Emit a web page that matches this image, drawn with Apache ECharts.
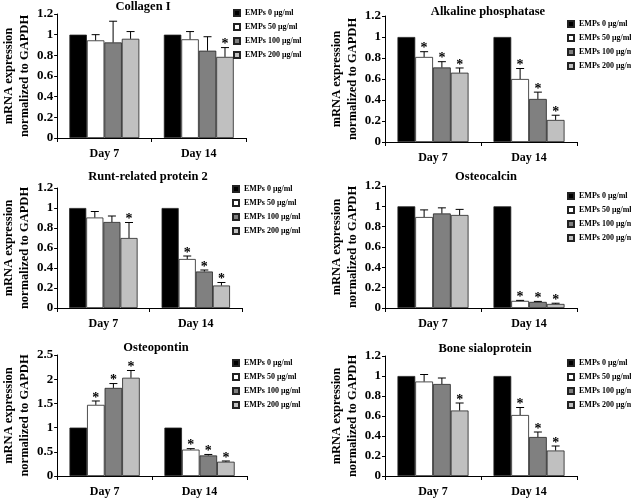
<!DOCTYPE html>
<html>
<head>
<meta charset="utf-8">
<script src="https://cdn.jsdelivr.net/npm/echarts@6/dist/echarts.min.js"></script>
<style>
html, body { margin: 0; padding: 0; background: #fff; }
#main { width: 631px; height: 500px; }
</style>
</head>
<body>
<div id="main"></div>
<script>
// categories / legend
var days = ['Day 7', 'Day 14'];
var doses = ['EMPs 0 μg/ml', 'EMPs 50 μg/ml', 'EMPs 100 μg/ml', 'EMPs 200 μg/ml'];
var titles = ['Collagen I', 'Alkaline phosphatase', 'Runt-related protein 2', 'Osteocalcin', 'Osteopontin', 'Bone sialoprotein'];
var yMax = [1.2, 1.2, 1.2, 1.2, 2.5, 1.2];
var yStep = [0.2, 0.2, 0.2, 0.2, 0.5, 0.2];

// values: [dose][day]  (mean, upper error, significance)
var colMean = [[1, 1], [0.945, 0.955], [0.925, 0.845], [0.96, 0.785]];
var colErr  = [[0, 0], [0.055, 0.075], [0.205, 0.135], [0.07, 0.09]];
var colSig  = [[0, 0], [0, 0], [0, 0], [0, 1]];

var alpMean = [[1, 1], [0.81, 0.6], [0.71, 0.41], [0.66, 0.21]];
var alpErr  = [[0, 0], [0.05, 0.1], [0.055, 0.065], [0.045, 0.045]];
var alpSig  = [[0, 0], [1, 1], [1, 1], [1, 1]];

var runxMean = [[1, 1], [0.905, 0.49], [0.86, 0.365], [0.70, 0.225]];
var runxErr  = [[0, 0], [0.06, 0.03], [0.06, 0.015], [0.155, 0.03]];
var runxSig  = [[0, 0], [0, 1], [0, 1], [1, 1]];

var ocnMean = [[1, 1], [0.895, 0.07], [0.93, 0.06], [0.915, 0.04]];
var ocnErr  = [[0, 0], [0.07, 0.005], [0.055, 0.005], [0.055, 0.007]];
var ocnSig  = [[0, 0], [0, 1], [0, 1], [0, 1]];

var opnMean = [[1, 1], [1.47, 0.545], [1.82, 0.425], [2.03, 0.295]];
var opnErr  = [[0, 0], [0.08, 0.02], [0.09, 0.02], [0.15, 0.015]];
var opnSig  = [[0, 0], [1, 1], [1, 1], [1, 1]];

var bspMean = [[1, 1], [0.945, 0.61], [0.92, 0.39], [0.655, 0.255]];
var bspErr  = [[0, 0], [0.07, 0.075], [0.06, 0.05], [0.075, 0.045]];
var bspSig  = [[0, 0], [0, 1], [0, 1], [1, 1]];

var means = [colMean, alpMean, runxMean, ocnMean, opnMean, bspMean];
var errs = [colErr, alpErr, runxErr, ocnErr, opnErr, bspErr];
var sigs = [colSig, alpSig, runxSig, ocnSig, opnSig, bspSig];

// 布局 (px)
var grids = [
	{left: 57, top: 14, width: 189, height: 124},
	{left: 385, top: 16, width: 192, height: 126},
	{left: 57, top: 188, width: 185, height: 120},
	{left: 385, top: 186, width: 192, height: 122},
	{left: 57, top: 355, width: 190, height: 121},
	{left: 385, top: 356, width: 192, height: 120}
];
var titlePos = [[143, 0], [488, 5], [148, 170], [486, 170], [156, 341], [485, 342]];
var legendPos = [[233, 9], [567, 20], [232, 185], [567, 192], [232, 359], [567, 359]];

var barColors = ['#000000', '#ffffff', '#808080', '#c0c0c0'];
var gapRatio = 0.26;
var font = 'Liberation Serif';

var chart = echarts.init(document.getElementById('main'));

function errRender(params, api) {
	var cat = api.value(0), dose = api.value(1), mean = api.value(2), err = api.value(3), sig = api.value(4);
	var base = api.coord([cat, mean]);
	var top = api.coord([cat, mean + err]);
	var bandW = api.size([1, 0])[0];
	var barW = bandW * (1 - gapRatio) / 4;
	var x = base[0] + (dose - 1.5) * barW;
	var children = [];
	if (err > 0) {
		children.push({type: 'line', shape: {x1: x, y1: base[1], x2: x, y2: top[1]}, style: {stroke: '#000', lineWidth: 1}});
		children.push({type: 'line', shape: {x1: x - 4, y1: top[1], x2: x + 4, y2: top[1]}, style: {stroke: '#000', lineWidth: 1}});
	}
	if (sig) {
		children.push({type: 'text', x: x, y: top[1] + 4, style: {
			text: '*', fontFamily: font, fontWeight: 'bold', fontSize: 14, fill: '#000',
			align: 'center', verticalAlign: 'bottom'
		}});
	}
	return {type: 'group', children: children};
}

var option = {
	backgroundColor: '#fff',
	animation: false,
	title: [], legend: [], grid: [], xAxis: [], yAxis: [], series: []
};

for (var p = 0; p < 6; p++) {
	option.title.push({
		text: titles[p], left: titlePos[p][0], top: titlePos[p][1], textAlign: 'center', padding: 0,
		textStyle: {fontFamily: font, fontWeight: 'bold', fontSize: 12.5, color: '#000'}
	});
	option.legend.push({
		orient: 'vertical', left: legendPos[p][0], top: legendPos[p][1], padding: 0,
		itemWidth: 6, itemHeight: 6, itemGap: 6, icon: 'rect', selectedMode: false,
		data: doses,
		textStyle: {fontFamily: font, fontWeight: 'bold', fontSize: 8, color: '#000', lineHeight: 7}
	});
	option.grid.push(grids[p]);
	option.xAxis.push({
		type: 'category', gridIndex: p, data: days,
		axisLine: {lineStyle: {color: '#000', width: 1}},
		axisTick: {show: true, length: 4, lineStyle: {color: '#000'}},
		axisLabel: {fontFamily: font, fontWeight: 'bold', fontSize: 12, color: '#000', margin: 10}
	});
	option.yAxis.push({
		type: 'value', gridIndex: p, min: 0, max: yMax[p], interval: yStep[p],
		name: 'mRNA expression\nnormalized to GAPDH', nameLocation: 'middle', nameGap: 20,
		nameTextStyle: {fontFamily: font, fontWeight: 'bold', fontSize: 12.5, color: '#000', lineHeight: 16},
		axisLine: {show: true, lineStyle: {color: '#000', width: 1}},
		axisTick: {show: true, length: 3, lineStyle: {color: '#000'}},
		splitLine: {show: false},
		axisLabel: {fontFamily: font, fontWeight: 'bold', fontSize: 13, color: '#000', margin: 4}
	});
	var errData = [];
	for (var d = 0; d < 4; d++) {
		option.series.push({
			name: doses[d], type: 'bar', xAxisIndex: p, yAxisIndex: p,
			barGap: '0%', barCategoryGap: (gapRatio * 100) + '%',
			itemStyle: {color: barColors[d], borderColor: '#222', borderWidth: 0.8},
			data: means[p][d]
		});
		for (var k = 0; k < 2; k++) {
			errData.push([k, d, means[p][d][k], errs[p][d][k], sigs[p][d][k]]);
		}
	}
	option.series.push({
		type: 'custom', xAxisIndex: p, yAxisIndex: p, z: 5,
		renderItem: errRender, encode: {x: 0, y: 2},
		data: errData
	});
}

chart.setOption(option);
</script>
</body>
</html>
